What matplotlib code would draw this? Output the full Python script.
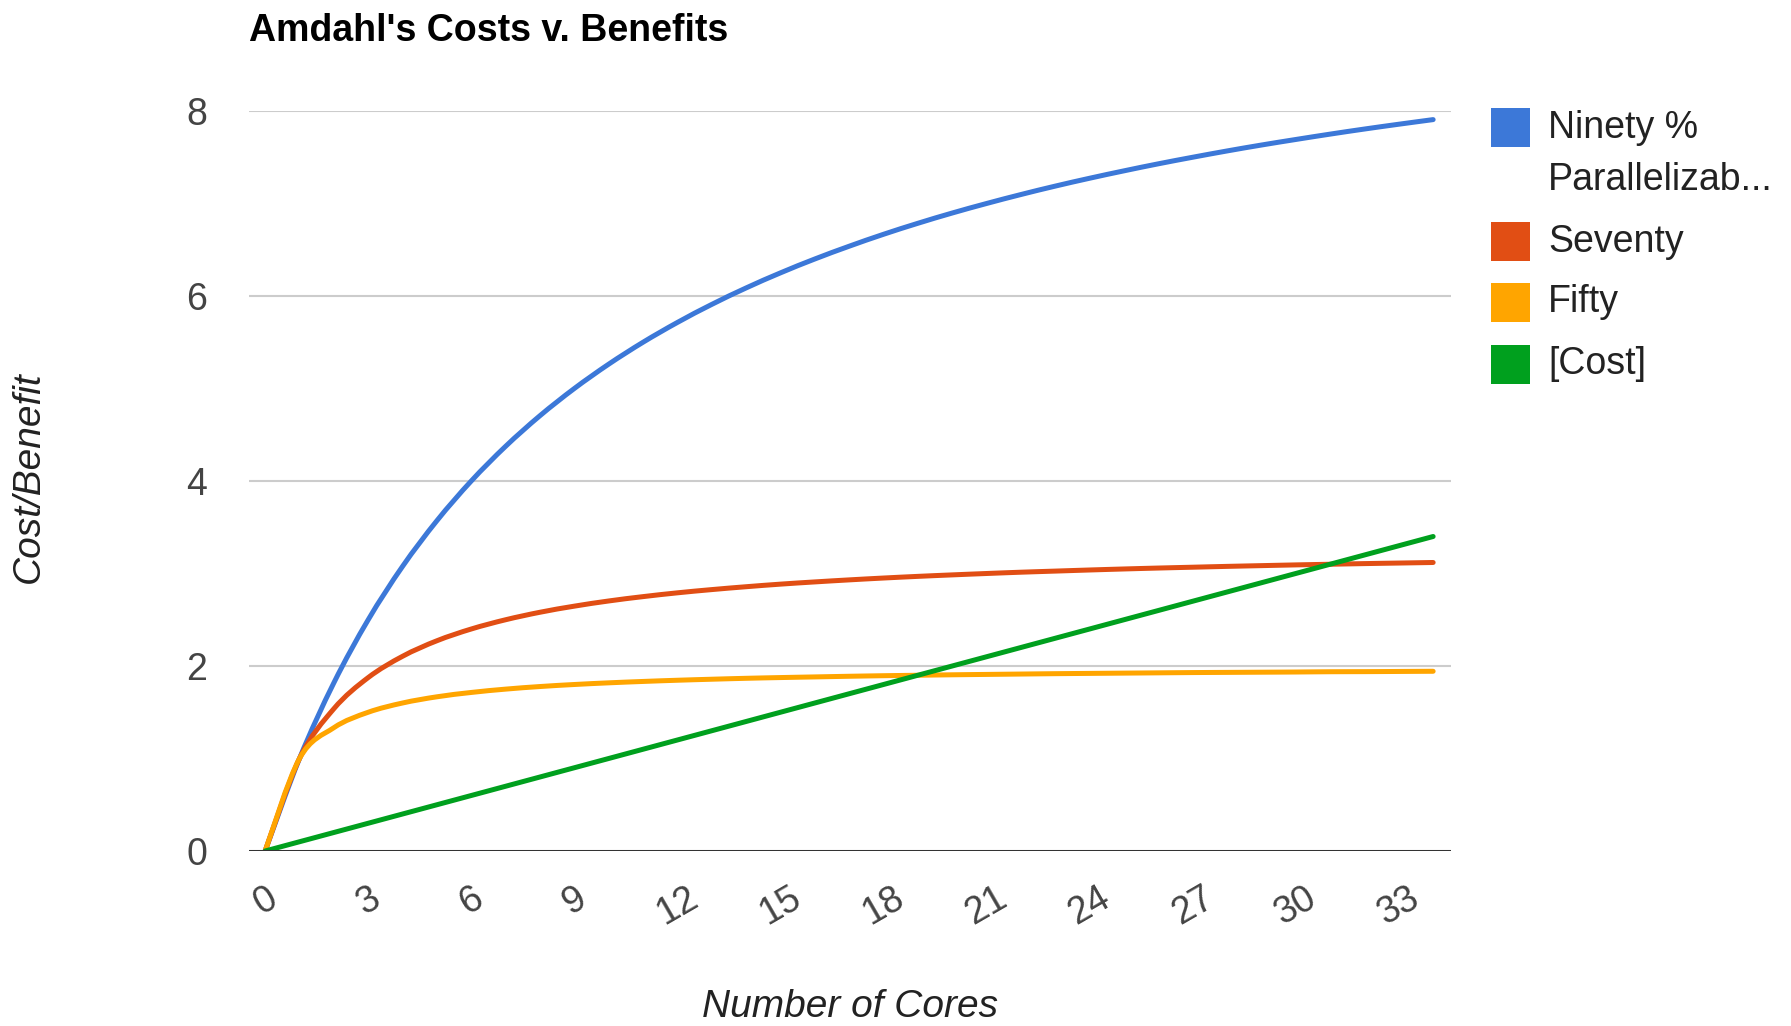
#!/usr/bin/env python3
"""Amdahl's law speedup for three parallel fractions against a linear core cost."""

import matplotlib

matplotlib.use("Agg")
import matplotlib.pyplot as plt
from matplotlib.patches import PathPatch, Rectangle
from matplotlib.path import Path

cores = list(range(35))

ninety = [0, 1.000, 1.818, 2.500, 3.077, 3.571, 4.000, 4.375, 4.706, 5.000,
          5.263, 5.500, 5.714, 5.909, 6.087, 6.250, 6.400, 6.538, 6.667, 6.786,
          6.897, 7.000, 7.097, 7.188, 7.273, 7.353, 7.429, 7.500, 7.568, 7.632,
          7.692, 7.750, 7.805, 7.857, 7.907]
seventy = [0, 1.000, 1.538, 1.875, 2.105, 2.273, 2.400, 2.500, 2.581, 2.647,
           2.703, 2.750, 2.791, 2.826, 2.857, 2.885, 2.909, 2.931, 2.951, 2.969,
           2.985, 3.000, 3.014, 3.026, 3.038, 3.049, 3.059, 3.068, 3.077, 3.085,
           3.093, 3.100, 3.107, 3.113, 3.119]
fifty = [0, 1.000, 1.333, 1.500, 1.600, 1.667, 1.714, 1.750, 1.778, 1.800,
         1.818, 1.833, 1.846, 1.857, 1.867, 1.875, 1.882, 1.889, 1.895, 1.900,
         1.905, 1.909, 1.913, 1.917, 1.920, 1.923, 1.926, 1.929, 1.931, 1.933,
         1.935, 1.938, 1.939, 1.941, 1.943]
cost = [0, 0.1, 0.2, 0.3, 0.4, 0.5, 0.6, 0.7, 0.8, 0.9,
        1.0, 1.1, 1.2, 1.3, 1.4, 1.5, 1.6, 1.7, 1.8, 1.9,
        2.0, 2.1, 2.2, 2.3, 2.4, 2.5, 2.6, 2.7, 2.8, 2.9,
        3.0, 3.1, 3.2, 3.3, 3.4]

series_names = ["Ninety %\nParallelizab...", "Seventy", "Fifty", "[Cost]"]
series_colors = ["#3c78d8", "#e14e14", "#ffa500", "#00a01e"]
x_ticks = list(range(0, 34, 3))
y_ticks = [0, 2, 4, 6, 8]


def smooth_path(xs, ys):
    """Cubic Bezier path through every point (Catmull-Rom tangents)."""
    pts = list(zip(xs, ys))
    n = len(pts)
    verts, codes = [pts[0]], [Path.MOVETO]
    for i in range(n - 1):
        p_prev = pts[max(i - 1, 0)]
        p0, p1 = pts[i], pts[i + 1]
        p_next = pts[min(i + 2, n - 1)]
        c1 = (p0[0] + (p1[0] - p_prev[0]) / 6, p0[1] + (p1[1] - p_prev[1]) / 6)
        c2 = (p1[0] - (p_next[0] - p0[0]) / 6, p1[1] - (p_next[1] - p0[1]) / 6)
        verts += [c1, c2, p1]
        codes += [Path.CURVE4] * 3
    return Path(verts, codes)


plt.rcParams["font.family"] = ["Liberation Sans", "DejaVu Sans"]

W, H = 1791, 1026
fig = plt.figure(figsize=(W / 100, H / 100), dpi=100)
ax = fig.add_axes([249 / W, 1 - 851 / H, (1451 - 249) / W, (851 - 111) / H])

for vals, color in zip([ninety, seventy, fifty, cost], series_colors):
    ax.add_patch(PathPatch(smooth_path(cores, vals), fill=False,
                           edgecolor=color, lw=3.6, capstyle="round",
                           joinstyle="round", zorder=3))

ax.set_xlim(-0.47, 34.52)
ax.set_ylim(0, 8)
for y in y_ticks[1:]:
    ax.axhline(y, color="#cccccc", lw=1.5, zorder=1)
ax.axhline(0, color="#333333", lw=2.2, zorder=4)

for s in ax.spines.values():
    s.set_visible(False)

ax.set_xticks(x_ticks)
ax.set_yticks(y_ticks)
ax.tick_params(axis="both", length=0, labelsize=27, labelcolor="#444444")
ax.tick_params(axis="x", pad=21)
ax.tick_params(axis="y", pad=30)
for lab in ax.get_xticklabels():
    lab.set_rotation(30)
    lab.set_ha("center")
    lab.set_va("top")

ax.set_xlabel("Number of Cores", fontsize=28, style="italic", color="#222222")
ax.xaxis.set_label_coords(0.5, -0.211)
ax.xaxis.label.set_va("center")
ax.set_ylabel("Cost/Benefit", fontsize=28, style="italic", color="#222222")
ax.yaxis.set_label_coords(-0.183, 0.505)
ax.yaxis.label.set_va("center")

fig.text(249 / W, 1 - 41 / H, "Amdahl's Costs v. Benefits", fontsize=27,
         fontweight="bold", color="black", va="baseline", ha="left")

# legend: square swatch, label beside it (first label wraps onto two lines)
row_tops = [108, 222, 283, 345]
for name, color, top in zip(series_names, series_colors, row_tops):
    fig.patches.append(Rectangle((1491 / W, 1 - (top + 39) / H), 39 / W, 39 / H,
                                 transform=fig.transFigure, facecolor=color,
                                 edgecolor="none"))
    for i, line in enumerate(name.split("\n")):
        fig.text(1548 / W, 1 - (top + 19.5 + i * 53) / H, line, fontsize=27,
                 color="#222222", va="center", ha="left")

fig.savefig("out.png", dpi=100)
